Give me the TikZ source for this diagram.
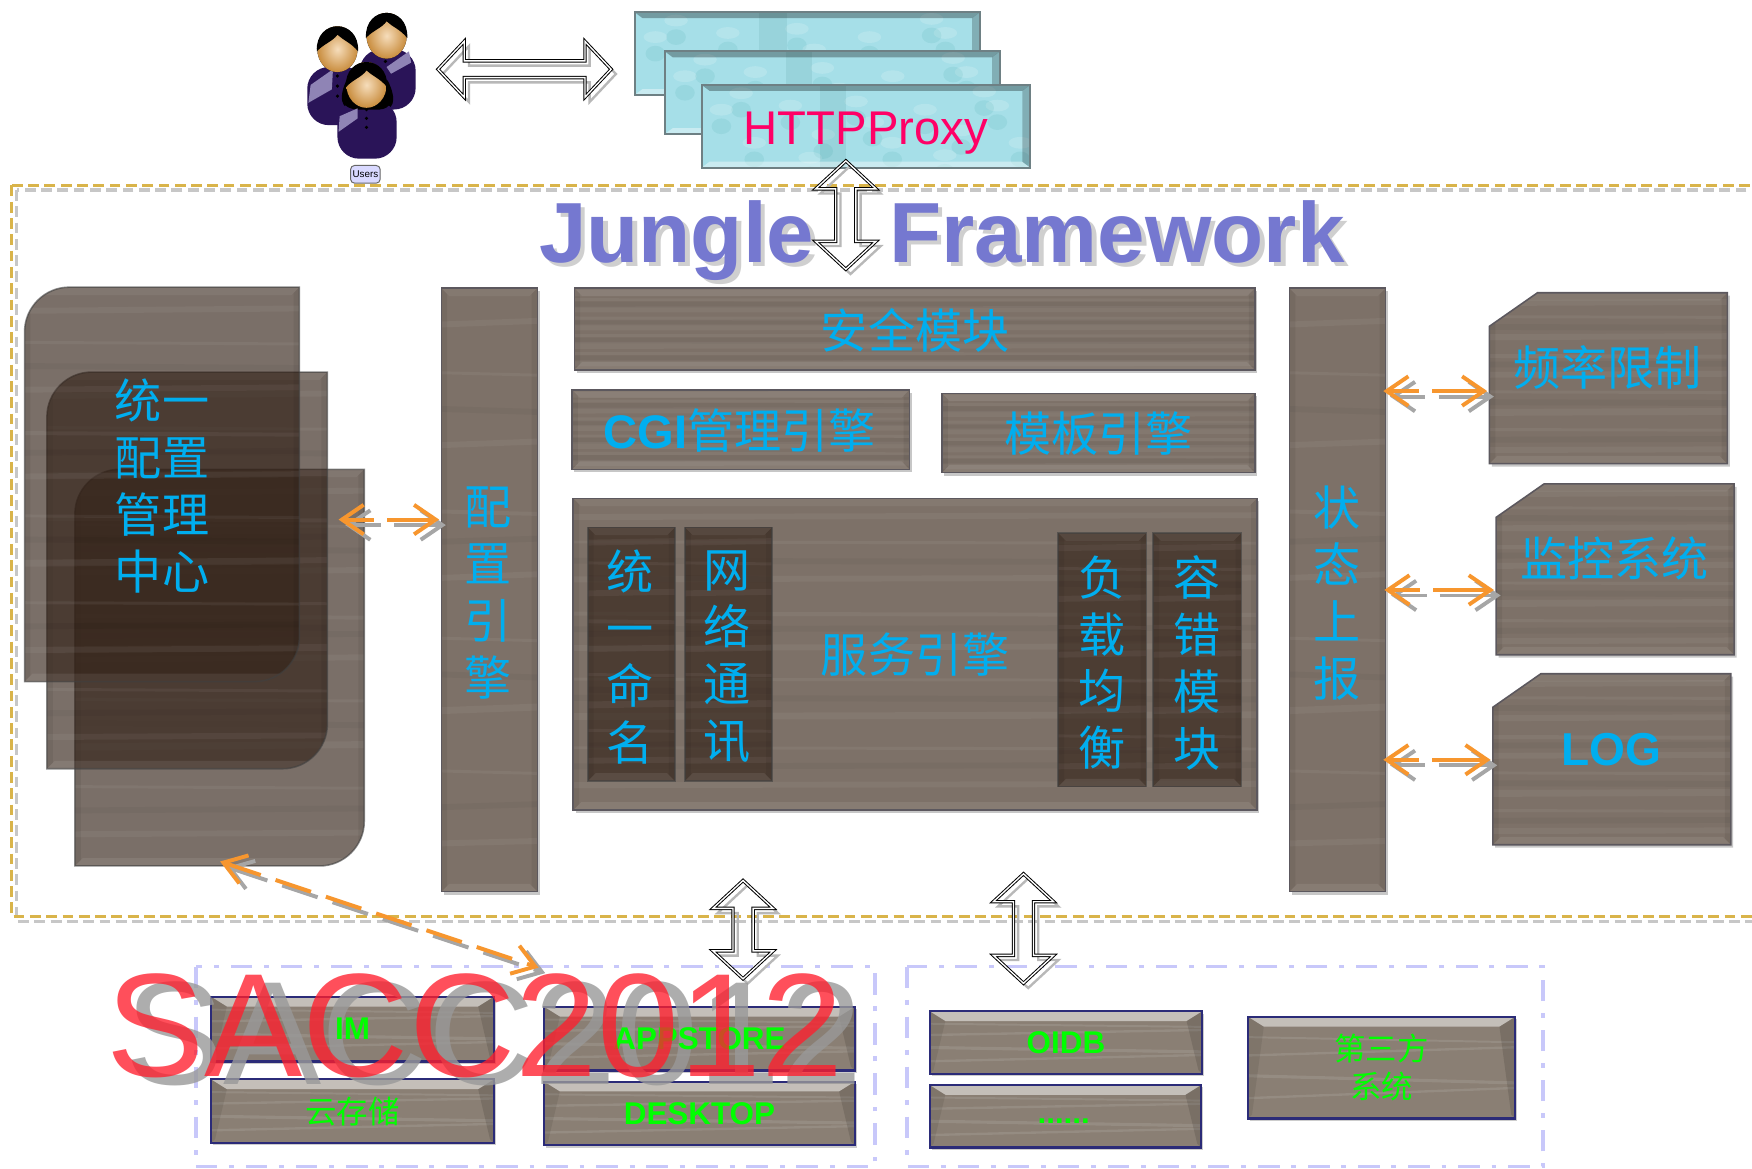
\documentclass[tikz,border=0pt]{standalone}
\usepackage{fontspec}
\setmainfont{Liberation Sans}
\newfontfamily\cjk{Noto Sans CJK SC}
\usetikzlibrary{arrows.meta,calc,shadows}
\definecolor{wood}{HTML}{7D7168}
\definecolor{woodline}{HTML}{5C585E}
\definecolor{darkwood}{HTML}{332218}
\definecolor{stone}{HTML}{8A7F74}
\definecolor{navy}{HTML}{2B2B78}
\definecolor{zhblue}{HTML}{00AEEF}
\definecolor{zhgreen}{HTML}{00FF00}
\definecolor{orangelink}{HTML}{F7962E}
\definecolor{frameyellow}{HTML}{D9B44A}
\definecolor{framelav}{HTML}{C8C8FA}
\definecolor{titleblue}{HTML}{7578D0}
\definecolor{proxy}{HTML}{A6DFE8}
\definecolor{proxyedge}{HTML}{6E8084}
\definecolor{purplebody}{HTML}{2A1458}
\definecolor{collar}{HTML}{8F84B5}
\definecolor{skinlight}{HTML}{F6DDBB}
\definecolor{skindark}{HTML}{C98D3E}
\newcommand\woodstreaks{%
  \coordinate (sw) at (path picture bounding box.south west);
  \coordinate (ne) at (path picture bounding box.north east);
  \coordinate (se) at (ne|-sw);
  \coordinate (nwc) at (sw|-ne);
  \foreach \f/\g/\w in {.08/.084/3,.2/.196/1.5,.3/.306/3.5,.42/.416/1.5,.52/.526/3,.63/.626/2,.74/.746/3,.86/.856/1.5,.94/.946/3}{
    \draw[white,opacity=.05,line width=\w pt] ($(sw)!\f!(nwc)$) -- ($(se)!\g!(ne)$);
  }
  \foreach \f/\g/\w in {.14/.145/3,.36/.355/3,.58/.585/3,.8/.795/3}{
    \draw[black,opacity=.035,line width=\w pt] ($(sw)!\f!(nwc)$) -- ($(se)!\g!(ne)$);
  }
  \fill[white,opacity=.06] (nwc) -- (ne) -- ([shift={(-4pt,-4pt)}]ne) -- ([shift={(4pt,-4pt)}]nwc) -- cycle;
  \fill[white,opacity=.08] (sw) -- (se) -- ([shift={(-4pt,4pt)}]se) -- ([shift={(4pt,4pt)}]sw) -- cycle;
  \fill[black,opacity=.06] (sw) -- (nwc) -- ([shift={(3pt,-3pt)}]nwc) -- ([shift={(3pt,3pt)}]sw) -- cycle;
  \fill[black,opacity=.06] (se) -- (ne) -- ([shift={(-3pt,-3pt)}]ne) -- ([shift={(-3pt,3pt)}]se) -- cycle;
}
\newcommand\stonetexture{%
  \coordinate (sw) at (path picture bounding box.south west);
  \coordinate (ne) at (path picture bounding box.north east);
  \coordinate (se) at (ne|-sw);
  \coordinate (nwc) at (sw|-ne);
  \foreach \f/\g/\w in {.2/.3/1.2,.42/.35/1.6,.62/.7/1.2,.8/.75/1}{
    \draw[white,opacity=.1,line width=\w pt] ($(sw)!\f!(nwc)$) -- ($(se)!\g!(ne)$);
  }
  \fill[white,opacity=.5] (nwc) -- (ne) -- ([shift={(-8pt,-5pt)}]ne) -- ([shift={(8pt,-5pt)}]nwc) -- cycle;
  \fill[black,opacity=.08] (sw) -- (nwc) -- ([shift={(8pt,-5pt)}]nwc) -- ([shift={(2pt,2pt)}]sw) -- cycle;
  \fill[black,opacity=.12] (se) -- (ne) -- ([shift={(-8pt,-5pt)}]ne) -- ([shift={(-2pt,2pt)}]se) -- cycle;
}
\newcommand\proxytexture{%
  \coordinate (sw) at (path picture bounding box.south west);
  \coordinate (ne) at (path picture bounding box.north east);
  \coordinate (se) at (ne|-sw);
  \coordinate (nwc) at (sw|-ne);
  \foreach \f/\g in {.06/.7,.16/.3,.27/.75,.37/.4,.47/.8,.58/.3,.68/.7,.79/.45,.9/.75,.97/.3,.12/.9,.33/.12,.52/.55,.74/.15,.86/.92}{
    \pgfmathsetmacro\gg{\g-.2}
    \fill[white,opacity=.16] ($($(sw)!\f!(se)$)!\g!($(nwc)!\f!(ne)$)$) circle[x radius=6pt,y radius=3pt];
    \fill[teal,opacity=.08] ($($(sw)!\f!(se)$)!\gg!($(nwc)!\f!(ne)$)$) circle[x radius=5pt,y radius=4pt];
  }
  \fill[teal!60!gray,opacity=.12] ($(sw)!.36!(se)$) rectangle ($(nwc)!.44!(ne)$);
  \fill[black,opacity=.3] (nwc) -- (ne) -- ([shift={(-4pt,-3pt)}]ne) -- ([shift={(4pt,-3pt)}]nwc) -- cycle;
  \fill[white,opacity=.4] (sw) -- (se) -- ([shift={(-4pt,3pt)}]se) -- ([shift={(4pt,3pt)}]sw) -- cycle;
  \fill[black,opacity=.22] (se) -- (ne) -- ([shift={(-4pt,-3pt)}]ne) -- ([shift={(-4pt,3pt)}]se) -- cycle;
}
\tikzset{
  woodbox/.style={draw=woodline,line width=.8pt,fill=wood,inner sep=0pt,
    drop shadow={shadow xshift=1.2pt,shadow yshift=-1.5pt,fill=black,opacity=.22},
    path picture={\woodstreaks}},
  glassbox/.style={draw=black!75,draw opacity=.6,line width=.8pt,fill=darkwood,fill opacity=.65,text opacity=1,inner sep=0pt,
    path picture={\woodstreaks}},
  stonebox/.style={draw=navy,line width=1.1pt,fill=stone,inner sep=0pt,
    drop shadow={shadow xshift=1pt,shadow yshift=-1.2pt,fill=black,opacity=.2},
    path picture={\stonetexture}},
  proxybox/.style={draw=proxyedge,line width=1.1pt,fill=proxy,inner sep=0pt,path picture={\proxytexture}},
  zhtext/.style={text=zhblue,align=center,font=\fontsize{24}{29}\selectfont\cjk},
  greentext/.style={text=zhgreen,align=center,font=\fontsize{16}{19.5}\selectfont\bfseries},
  greenzh/.style={text=zhgreen,align=center,font=\fontsize{16}{19.5}\selectfont\cjk},
  olink/.style={draw=orangelink,line width=2pt,{Straight Barb[length=11pt,width=15pt,line width=2pt]}-{Straight Barb[length=11pt,width=15pt,line width=2pt]}},
  oshadow/.style={olink,draw=black!35,transform canvas={shift={(3.4pt,-2.8pt)}}},
  shortdash/.style={dash pattern=on 15.3pt off 6.8pt on 60pt off 0pt},
  longdash/.style={dash pattern=on 19pt off 8pt},
  blockline/.style={draw=black,line width=.5pt,double=white,double distance=.7pt,line join=miter},
  blockshadow/.style={draw=black!28,line width=1.2pt,transform canvas={shift={(2.4pt,-2.4pt)}}},
  goldframe/.style={draw=frameyellow,line width=1.6pt,dash pattern=on 5.5pt off 2.8pt},
  goldshadow/.style={draw=black!22,line width=1.6pt,dash pattern=on 5.5pt off 2.8pt},
  lavframe/.style={draw=framelav,line width=2pt,dash pattern=on 11pt off 6pt on 2.5pt off 6pt},
  bodyfill/.style={fill=purplebody,rounded corners=11pt},
  headball/.style={inner color=skinlight,outer color=skindark},
}
\newcommand\spanbox[7][woodbox]{%
  \pgfmathsetmacro\bw{#5-#3}\pgfmathsetmacro\bh{#6-#4}%
  \pgfmathsetmacro\cx{(#3+#5)/2}\pgfmathsetmacro\cy{(#4+#6)/2}%
  \node[#1,minimum width=\bw*0.02cm,minimum height=\bh*0.02cm,rectangle] (#2) at (\cx,\cy) {#7};}
\newcommand\cfgpath[4]{(#1,#4) -- (#1,#2+40) .. controls (#1,#2+18) and (#1+18,#2) .. (#1+40,#2) -- (#3,#2) -- (#3,#4-40) .. controls (#3,#4-18) and (#3-18,#4) .. (#3-40,#4) -- cycle}
\newcommand\snippath[4]{(#1,#2+30) -- (#1+43,#2) -- (#3,#2) -- (#3,#4) -- (#1,#4) -- cycle}
\newcommand\dashlink[3][shortdash]{\draw[oshadow,#1] (#2) -- (#3); \draw[olink,#1] (#2) -- (#3);}
\newcommand\vshape[3]{(#1,#2) -- (#1+27,#2+25) -- (#1+9,#2+25) -- (#1+9,#3-25) -- (#1+27,#3-25) -- (#1,#3) -- (#1-27,#3-25) -- (#1-9,#3-25) -- (#1-9,#2+25) -- (#1-27,#2+25) -- cycle}
\newcommand\hshape[3]{(#1,#3) -- (#1+23.5,#3-25) -- (#1+23.5,#3-7.5) -- (#2-23.5,#3-7.5) -- (#2-23.5,#3-25) -- (#2,#3) -- (#2-23.5,#3+25) -- (#2-23.5,#3+7.5) -- (#1+23.5,#3+7.5) -- (#1+23.5,#3+25) -- cycle}
\newcommand\vblock[3]{\draw[blockshadow] \vshape{#1}{#2}{#3}; \draw[blockline] \vshape{#1}{#2}{#3};}
\newcommand\hblock[3]{\draw[blockshadow] \hshape{#1}{#2}{#3}; \draw[blockline] \hshape{#1}{#2}{#3};}
\newcommand\headhair[2]{% centre x,y
  \fill[headball] (#1,#2) ellipse[x radius=18,y radius=20.5];
  \fill[black] (#1-18.5,#2+2) .. controls (#1-20,#2-28) and (#1+20,#2-28) .. (#1+18.5,#2+2) .. controls (#1+12,#2-6) and (#1+5,#2-8) .. (#1,#2-13) .. controls (#1-4,#2-7) and (#1-12,#2-5) .. (#1-18.5,#2+2) -- cycle;
}
\begin{document}
\begin{tikzpicture}[x=0.02cm,y=-0.02cm]
\useasboundingbox (0,0) rectangle (1568,1046.2);
\fill[white] (0,0) rectangle (1568,1046.2);

% users
\fill[bodyfill] (322,44) rectangle (372,98);
\fill[collar] (346,60) -- (366,46) -- (368,56) -- (350,66) -- cycle;
\fill[black] (345,55) circle[radius=1.6];
\headhair{346}{32}
\fill[bodyfill] (275,60) rectangle (328,112);
\fill[collar] (276,92) -- (278,76) -- (298,62) -- (297,80) -- cycle;
\foreach \yy in {68,77,86}{\fill[black] (302,\yy) circle[radius=1.6];}
\headhair{302}{44}
\fill[black] (310,72) .. controls (300,94) and (310,100) .. (322,98) -- (340,98) .. controls (352,100) and (356,90) .. (347,72) -- cycle;
\fill[purplebody,rounded corners=11pt] (302,90) -- (355,90) -- (355,142) -- (302,142) -- cycle;
\fill[black] (310,80) .. controls (304,92) and (308,96) .. (318,98) -- (340,98) .. controls (350,97) and (352,90) .. (346,80) -- cycle;
\fill[collar] (303,118) -- (304,104) -- (320,97) -- (320,106) -- cycle;
\foreach \yy in {98,106,114}{\fill[black] (328,\yy) circle[radius=1.6];}
\headhair{328}{76}
\node[draw=black!60,fill=blue!15,rounded corners=2pt,line width=.5pt,inner sep=1pt,minimum width=15pt,minimum height=9pt,font=\fontsize{5}{5}\selectfont] (users) at (327,156) {Users};

% proxy stack
\spanbox[proxybox]{proxyA}{568}{11}{877}{85}{}
\spanbox[proxybox]{proxyB}{595}{46}{895}{120}{}
\spanbox[proxybox,text=black]{proxyC}{628}{76}{922}{150}{}
\node[text={rgb,255:red,255;green,0;blue,102},font=\fontsize{24.1}{26}\selectfont] (proxytext) at (775,119) {HTTPProxy};

% framework frame
\draw[goldshadow] (15,170) rectangle (1585,825);
\draw[goldframe] (10,166) rectangle (1585,820);

% title
\node[text=black!25,font=\fontsize{43.5}{50}\selectfont\bfseries,opacity=.75] (titleshadow) at (847,219) {Jungle \hspace{26pt}Framework};
\node[text=titleblue,font=\fontsize{43.5}{50}\selectfont\bfseries] (title) at (843,215) {Jungle \hspace{26pt}Framework};

% config centre
\path[glassbox] \cfgpath{67}{420}{326}{775};
\path[glassbox] \cfgpath{42}{333}{293}{688};
\path[glassbox] \cfgpath{22}{257}{268}{610};
\node[zhtext] (cfgcentre) at (145,435) {统一\\配置\\管理\\中心};

% central column
\spanbox{cfgengine}{395}{258}{481}{798}{}
\node[zhtext] (cfgtext) at (437,531) {配\\置\\引\\擎};
\spanbox{security}{514}{258}{1123}{331}{}
\node[zhtext] (sectext) at (819,296) {安全模块};
\spanbox{cgi}{512}{349}{814}{420}{}
\node[zhtext] (cgitext) at (662,385) {{\normalfont\bfseries CGI}管理引擎};
\spanbox{tmpl}{843}{352}{1123}{423}{}
\node[zhtext] (tmpltext) at (983,388) {模板引擎};
\spanbox{service}{513}{446}{1125}{725}{}
\node[zhtext] (servicetext) at (819,586) {服务引擎};
\spanbox[glassbox]{naming}{526}{472}{604}{699}{}
\node[zhtext] (namingtext) at (564,588) {统\\一\\命\\名};
\spanbox[glassbox]{netcom}{613}{472}{691}{699}{}
\node[zhtext] (netcomtext) at (651,588) {网\\络\\通\\讯};
\spanbox[glassbox]{balance}{947}{477}{1026}{704}{}
\node[zhtext] (balancetext) at (986,593) {负\\载\\均\\衡};
\spanbox[glassbox]{fault}{1032}{477}{1111}{704}{}
\node[zhtext] (faulttext) at (1071,593) {容\\错\\模\\块};
\spanbox{status}{1154}{258}{1240}{798}{}
\node[zhtext] (statustext) at (1197,531) {状\\态\\上\\报};

% right column
\path[woodbox] \snippath{1333}{262}{1546}{415};
\node[zhtext] (freq) at (1439,329) {频率限制};
\path[woodbox] \snippath{1339}{433}{1552}{586};
\node[zhtext] (monitor) at (1445,500) {监控系统};
\path[woodbox] \snippath{1336}{603}{1549}{756};
\node[zhtext,font=\fontsize{23.5}{26}\selectfont\bfseries] (log) at (1442,671) {LOG};

% orange links
\coordinate (l0) at (303,465);
\coordinate (l1) at (393,465);
\coordinate (s1) at (1238,350);
\coordinate (s2) at (1239,528);
\coordinate (s3) at (1238,680);
\coordinate (r1) at (1331,350);
\coordinate (r2) at (1337,528);
\coordinate (r3) at (1334,680);
\dashlink{l0}{l1}
\dashlink{s1}{r1}
\dashlink{s2}{r2}
\dashlink{s3}{r3}
\coordinate (dA) at (197,771);
\coordinate (dB) at (482,866);

% bottom frames
\draw[lavframe] (175,865) rectangle (783,1044);
\draw[lavframe] (812,865) rectangle (1381,1044);
\dashlink[longdash]{dA}{dB}

% bottom boxes
\spanbox[stonebox]{im}{189}{892}{442}{950}{}
\spanbox[stonebox]{cloud}{189}{966}{442}{1023}{}
\spanbox[stonebox]{appstore}{487}{901}{765}{958}{}
\spanbox[stonebox]{desktop}{487}{968}{765}{1025}{}
\spanbox[stonebox]{oidb}{832}{905}{1076}{961}{}
\spanbox[stonebox]{more}{832}{971}{1075}{1027}{}
\spanbox[stonebox]{third}{1117}{910}{1356}{1001}{}

% block arrows
\hblock{392}{547}{62}
\vblock{757}{144}{241}
\vblock{665}{788}{876}
\vblock{916}{782}{880}

% watermark shadow, box labels, watermark
\node[text=black!40,opacity=.8,font=\fontsize{75}{80}\selectfont] (sacshadow) at (442,925) {SACC2012};
\node[greentext] (imtext) at (im) {IM};
\node[greenzh] (cloudtext) at (cloud) {云存储};
\node[greentext] (apptext) at (appstore) {APPSTORE};
\node[greentext] (desktext) at (desktop) {DESKTOP};
\node[greentext] (oidbtext) at (oidb) {OIDB};
\node[greentext] (moretext) at (952,1003) {......};
\node[greenzh] (thirdtext) at (third) {第三方\\系统};
\node[text={rgb,255:red,255;green,30;blue,45},opacity=.78,font=\fontsize{75}{80}\selectfont] (sacc) at (425,918) {SACC2012};
\end{tikzpicture}
\end{document}
